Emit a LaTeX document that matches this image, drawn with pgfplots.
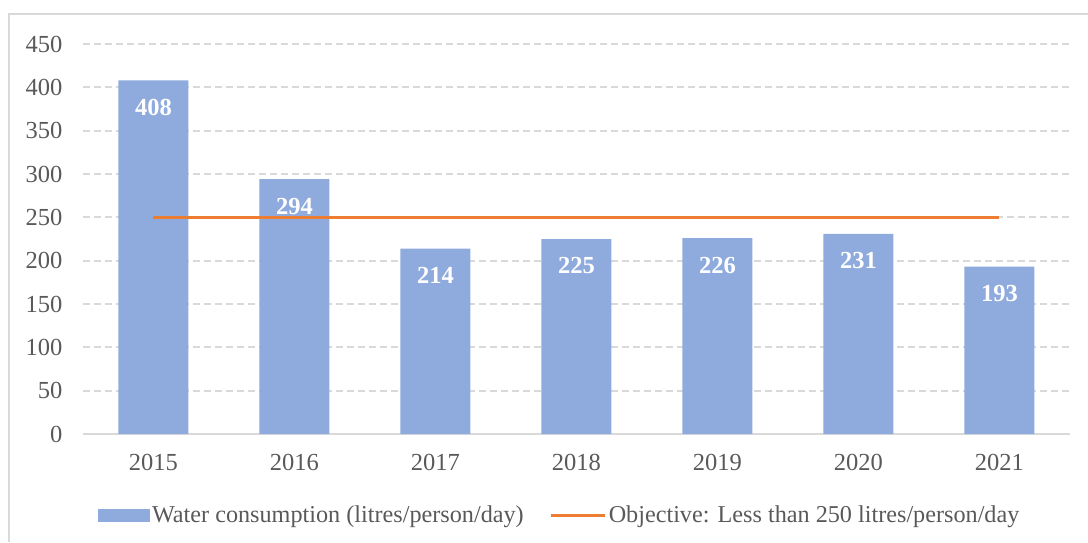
\documentclass[border=0pt]{standalone}
\usepackage{fontspec}
\setmainfont{Liberation Serif}
\usepackage{pgfplots}
\pgfplotsset{compat=1.18}
\usetikzlibrary{calc}
\definecolor{barblue}{HTML}{8FAADC}
\definecolor{objorange}{HTML}{ED7D31}
\definecolor{gridgray}{HTML}{D9D9D9}
\definecolor{txtgray}{HTML}{595959}

\begin{document}
\begin{tikzpicture}
\begin{axis}[
  name=ax,
  at={(0,0)}, anchor=south west,
  scale only axis,
  width=987pt, height=390pt,
  xmin=-0.5, xmax=6.5,
  ymin=0, ymax=450,
  xtick={0,...,6},
  xticklabels={2015,2016,2017,2018,2019,2020,2021},
  ytick={0,50,...,450},
  axis x line*=bottom,
  axis y line*=left,
  x axis line style={draw=gridgray, line width=1.5pt, -},
  y axis line style={draw=none},
  major tick length=0pt,
  ymajorgrids=true,
  grid style={gridgray, line width=2pt, dash pattern=on 7pt off 4pt},
  /pgf/number format/assume math mode=true,
  font=\fontsize{24.5}{28}\selectfont,
  tick label style={text=txtgray, font=\fontsize{24.5}{28}\selectfont},
  yticklabel style={xshift=-17pt},
  xticklabel style={yshift=-17pt},
  legend style={at={(rel axis cs:0.483,-0.208)}, anchor=center, draw=none,
    fill=none, legend columns=2, text=txtgray,
    font=\fontsize{24.2}{28}\selectfont,
    nodes={inner sep=2.5pt},
    /tikz/every even column/.append style={column sep=23pt}},
]
\addplot[ybar, bar width=70pt, fill=barblue, draw=none,
  nodes near coords,
  every node near coord/.append style={font=\fontsize{24.5}{28}\selectfont\bfseries, text=white, anchor=center, yshift=-27pt},
  legend image code/.code={\fill[barblue] (0pt,-6.5pt) rectangle (52pt,6.5pt);}]
  coordinates {(0,408)(1,294)(2,214)(3,225)(4,226)(5,231)(6,193)};
\addlegendentry{Water consumption (litres/person/day)}
\addplot[objorange, line width=3pt,
  legend image code/.code={\draw[objorange, line width=3pt] (0pt,0pt) -- (54pt,0pt);}]
  coordinates {(0,250)(6,250)};
\addlegendentry{Objective: Less than 250 litres/person/day}
\end{axis}
\path[use as bounding box] ($(ax.south west)+(-83pt,-108pt)$) rectangle ($(ax.south west)+(1005pt,434pt)$);
\draw[gridgray, line width=1.5pt] ($(ax.south west)+(-74pt,-108pt)$) -- ($(ax.south west)+(-74pt,420pt)$) -- ($(ax.south west)+(1005pt,420pt)$);
\end{tikzpicture}
\end{document}
